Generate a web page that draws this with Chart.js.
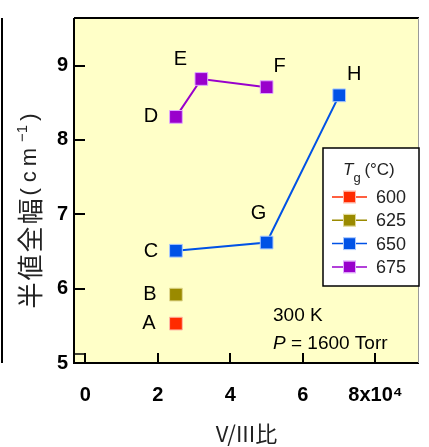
<!DOCTYPE html>
<html>
<head>
<meta charset="utf-8">
<script src="https://cdn.jsdelivr.net/npm/chart.js@4.4.0/dist/chart.umd.min.js"></script>
<style>
  html, body { margin: 0; padding: 0; background: #fff; }
  #wrap { width: 429px; height: 447px; }
</style>
</head>
<body>
<div id="wrap"><canvas id="myChart" width="429" height="447"></canvas></div>
<script>
// growth temperatures (legend)
const temps = ["600", "625", "650", "675"];
// V/III ratio (x10^4) and FWHM (cm-1) per temperature
const x600 = [2.5];
const y600 = [5.53];
const x625 = [2.5];
const y625 = [5.92];
const x650 = [2.5, 5.0, 7.0];
const y650 = [6.51, 6.62, 8.6];
const x675 = [2.5, 3.2, 5.0];
const y675 = [8.31, 8.82, 8.71];
const names600 = ["A"];
const names625 = ["B"];
const names650 = ["C", "G", "H"];
const names675 = ["D", "E", "F"];
const xTicks = [0, 2, 4, 6, 8];
const yTicks = [5, 6, 7, 8, 9];

const colors = ["#ff2a00", "#9a8a00", "#0052e6", "#9900cc"];
const lightColors = ["#ffb8a8", "#e0d890", "#a8c8ff", "#e0a8ff"];

// where each point name sits relative to its marker (px)
const nameOffset = {
  A: [-27, 0], B: [-26, 0], C: [-25, 1], D: [-25, 0],
  E: [-21, -19], F: [13, -21], G: [-8, -29], H: [15, -21]
};

const SANS = "'Liberation Sans', Arial, sans-serif";
const JP = "'Noto Sans CJK JP', 'Liberation Sans', sans-serif";

function pts(xs, ys) {
  const out = [];
  for (let i = 0; i < xs.length; i++) out.push({ x: xs[i], y: ys[i] });
  return out;
}

const sets = [
  [x600, y600, names600],
  [x625, y625, names625],
  [x650, y650, names650],
  [x675, y675, names675],
];

const datasets = sets.map((s, i) => ({
  label: temps[i],
  data: pts(s[0], s[1]),
  names: s[2],
  borderColor: colors[i],
  backgroundColor: colors[i],
  pointBackgroundColor: colors[i],
  pointBorderColor: lightColors[i],
  pointBorderWidth: 1,
  pointStyle: "rect",
  pointRadius: 9,
  borderWidth: 2,
  showLine: true,
  tension: 0,
}));

const decor = {
  id: "decor",
  beforeDraw(chart) {
    const { ctx, chartArea: a } = chart;
    ctx.save();
    ctx.fillStyle = "#ffffc8";
    ctx.fillRect(a.left, a.top, a.right - a.left, a.bottom - a.top);
    ctx.restore();
  },
  afterDraw(chart) {
    const { ctx, chartArea: a, scales } = chart;
    const xs = scales.x, ys = scales.y;
    ctx.save();
    // frame
    ctx.strokeStyle = "#000";
    ctx.lineWidth = 2;
    ctx.beginPath();
    ctx.moveTo(a.left, a.top); ctx.lineTo(a.right, a.top);
    ctx.moveTo(a.left, a.top); ctx.lineTo(a.left, a.bottom);
    ctx.moveTo(a.left - 1, a.bottom); ctx.lineTo(a.right, a.bottom);
    ctx.stroke();
    ctx.strokeStyle = "#999";
    ctx.lineWidth = 1;
    ctx.beginPath();
    ctx.moveTo(a.right - 0.5, a.top); ctx.lineTo(a.right - 0.5, a.bottom);
    ctx.stroke();
    ctx.strokeStyle = "#000";
    ctx.lineWidth = 2;
    ctx.beginPath();
    ctx.moveTo(2, a.top); ctx.lineTo(2, a.bottom);
    ctx.stroke();
    // inward ticks
    ctx.lineWidth = 2;
    ctx.beginPath();
    yTicks.forEach(v => {
      const p = Math.round(ys.getPixelForValue(v));
      ctx.moveTo(a.left, p); ctx.lineTo(a.left + 11, p);
    });
    xTicks.forEach(v => {
      const p = Math.round(xs.getPixelForValue(v));
      ctx.moveTo(p, a.bottom); ctx.lineTo(p, a.bottom - 10);
    });
    ctx.stroke();
    ctx.lineWidth = 1.5;
    ctx.strokeRect(a.left, a.bottom - 9, 11, 9);

    // y title, rotated
    ctx.save();
    ctx.translate(29, 211);
    ctx.rotate(-Math.PI / 2);
    ctx.fillStyle = "#222";
    ctx.textBaseline = "middle";
    ctx.textAlign = "left";
    const parts = [
      ["半", "26px " + JP, 0, 2],
      ["値", "26px " + JP, 0, 2],
      ["全", "26px " + JP, 0, 2],
      ["幅", "26px " + JP, 0, 3],
      ["(", "22px " + SANS, 0, 6],
      ["c", "22px " + SANS, 0, 5],
      ["m", "22px " + SANS, 0, 6],
      ["−1", "15px " + SANS, -7, 4],
      [")", "22px " + SANS, 0, 0],
    ];
    let w = 0;
    parts.forEach(p => { ctx.font = p[1]; w += ctx.measureText(p[0]).width + p[3]; });
    let cx = -w / 2;
    parts.forEach(p => {
      ctx.font = p[1];
      ctx.fillText(p[0], cx, p[2] + 1);
      cx += ctx.measureText(p[0]).width + p[3];
    });
    ctx.restore();

    // point names
    ctx.fillStyle = "#000";
    ctx.font = "20px " + SANS;
    ctx.textAlign = "center";
    ctx.textBaseline = "middle";
    chart.data.datasets.forEach(ds => {
      ds.data.forEach((d, i) => {
        const n = ds.names[i];
        const o = nameOffset[n];
        ctx.fillText(n, xs.getPixelForValue(d.x) + o[0], ys.getPixelForValue(d.y) + o[1]);
      });
    });

    // conditions
    ctx.textAlign = "left";
    ctx.font = "19px " + SANS;
    ctx.fillText("300 K", 273, 316);
    ctx.font = "italic 19px " + SANS;
    ctx.fillText("P", 273, 344);
    const pw = ctx.measureText("P").width;
    ctx.font = "19px " + SANS;
    ctx.fillText(" = 1600 Torr", 273 + pw, 344);

    // legend box
    const lx = 323, ly = 148, lw = 96, lh = 138;
    ctx.fillStyle = "#fff";
    ctx.fillRect(lx, ly, lw, lh);
    ctx.strokeStyle = "#000";
    ctx.lineWidth = 1.5;
    ctx.strokeRect(lx, ly, lw, lh);
    ctx.fillStyle = "#222";
    ctx.font = "italic 17px " + SANS;
    ctx.fillText("T", 343, 170);
    const tw = ctx.measureText("T").width;
    ctx.font = "13px " + SANS;
    ctx.fillText("g", 343 + tw, 178);
    ctx.font = "17px " + SANS;
    ctx.fillText("(°C)", 343 + tw + 11, 170);
    chart.data.datasets.forEach((ds, i) => {
      const yy = 197 + i * 23.3;
      ctx.strokeStyle = ds.borderColor;
      ctx.lineWidth = 1.5;
      ctx.beginPath();
      ctx.moveTo(332, yy); ctx.lineTo(367, yy);
      ctx.stroke();
      ctx.fillStyle = ds.backgroundColor;
      ctx.fillRect(344, yy - 5.5, 11, 11);
      ctx.strokeStyle = lightColors[i];
      ctx.lineWidth = 1;
      ctx.strokeRect(343.5, yy - 6, 12, 12);
      ctx.fillStyle = "#222";
      ctx.font = "18px " + SANS;
      ctx.fillText(ds.label, 376, yy + 1);
    });
    ctx.restore();
  }
};

new Chart(document.getElementById("myChart"), {
  type: "scatter",
  data: { datasets: datasets },
  options: {
    responsive: false,
    animation: false,
    layout: { padding: { top: 10, right: 0, left: 0, bottom: 0 } },
    plugins: { legend: { display: false }, tooltip: { enabled: false } },
    scales: {
      x: {
        type: "linear",
        min: -0.31,
        max: 9.2,
        afterBuildTicks: s => { s.ticks = xTicks.map(v => ({ value: v })); },
        afterFit: s => { s.height = 84; },
        grid: { display: false, drawTicks: false },
        border: { display: false },
        ticks: {
          color: "#000",
          padding: 20,
          font: { family: SANS, size: 20, weight: "bold" },
          callback: v => (v === 8 ? "8x10⁴" : String(v)),
        },
        title: {
          display: true,
          text: "V/III比",
          color: "#222",
          padding: { top: 2, bottom: 0 },
          font: { family: JP, size: 22 },
        },
      },
      y: {
        min: 5,
        max: 9.64,
        afterBuildTicks: s => { s.ticks = yTicks.map(v => ({ value: v })); },
        afterFit: s => { s.width = 74; },
        grid: { display: false, drawTicks: false },
        border: { display: false },
        ticks: {
          color: "#000",
          padding: 6,
          font: { family: SANS, size: 20, weight: "bold" },
        },
        title: { display: false },
      },
    },
  },
  plugins: [decor],
});
</script>
</body>
</html>
